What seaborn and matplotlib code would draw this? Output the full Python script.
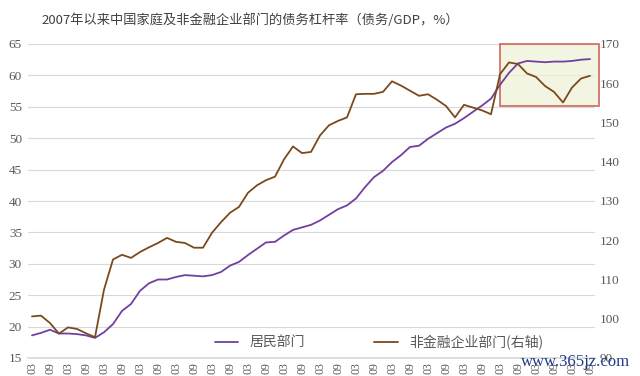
import matplotlib
matplotlib.use("Agg")
import matplotlib.pyplot as plt
import matplotlib.patches as patches
import seaborn as sns
import pandas as pd

# quarterly, 2007Q1 .. 2022Q3 (only the month part of the labels is visible)
quarters = pd.period_range("2007Q1", "2022Q3", freq="Q").strftime("%m").tolist()

household = [18.6, 19.0, 19.5, 18.9, 18.9, 18.8, 18.6, 18.2, 19.1, 20.4,
             22.5, 23.6, 25.7, 26.9, 27.5, 27.5, 27.9, 28.2, 28.1, 28.0,
             28.2, 28.7, 29.7, 30.3, 31.4, 32.4, 33.4, 33.5, 34.5, 35.4,
             35.8, 36.2, 36.9, 37.8, 38.7, 39.3, 40.4, 42.2, 43.8, 44.8,
             46.2, 47.3, 48.6, 48.8, 49.9, 50.8, 51.7, 52.3, 53.2, 54.2,
             55.2, 56.3, 58.5, 60.4, 61.9, 62.3, 62.2, 62.1, 62.2, 62.2,
             62.3, 62.5, 62.6]

corporate = [100.6, 100.8, 98.9, 96.2, 97.8, 97.4, 96.3, 95.3, 107.4, 115.1,
             116.3, 115.5, 117.0, 118.2, 119.3, 120.6, 119.6, 119.3, 118.1, 118.1,
             121.9, 124.6, 127.0, 128.5, 132.1, 134.0, 135.3, 136.2, 140.6, 143.9,
             142.2, 142.5, 146.7, 149.3, 150.4, 151.3, 157.2, 157.3, 157.3, 157.8,
             160.5, 159.4, 158.1, 156.8, 157.2, 155.8, 154.2, 151.3, 154.5, 153.8,
             153.1, 152.1, 162.3, 165.3, 164.9, 162.5, 161.6, 159.3, 157.8, 155.1,
             158.9, 161.2, 161.9]

left_ticks = [15, 20, 25, 30, 35, 40, 45, 50, 55, 60, 65]
right_ticks = [90, 100, 110, 120, 130, 140, 150, 160, 170]

purple = "#7040a0"
brown = "#7b4a1c"
grey = "#595959"

df = pd.DataFrame({"idx": range(len(quarters)), "quarter": quarters,
                   "household": household, "corporate": corporate})

sns.set_theme(style="white")
plt.rcParams['font.family'] = ['Noto Sans CJK SC', 'DejaVu Sans']

fig = plt.figure(figsize=(6.4, 3.76), dpi=100)
ax = fig.add_axes([27.5 / 640, 18 / 376, 567 / 640, 314 / 376])
ax2 = ax.twinx()

sns.lineplot(data=df, x="idx", y="household", ax=ax, color=purple, linewidth=1.3, label="居民部门")
sns.lineplot(data=df, x="idx", y="corporate", ax=ax2, color=brown, linewidth=1.3, label="非金融企业部门(右轴)")

# highlight box
box = patches.Rectangle((52.05, 55.2), 10.9, 9.8, facecolor="#eef1d8", alpha=0.7,
                        edgecolor="#c0392b", linewidth=1.3, zorder=1, clip_on=False)
ax.add_patch(box)

ax.set_xlim(-0.5, len(quarters) - 0.5)
ax.set_ylim(15, 65)
ax2.set_ylim(90, 170)
ax.set_yticks(left_ticks)
ax2.set_yticks(right_ticks)
ax.set_xticks(df["idx"][::2])
ax.set_xticklabels(df["quarter"][::2], rotation=90)
ax.grid(axis="y", color="#d9d9d9", linewidth=0.8)
ax.set_axisbelow(True)
ax.set(xlabel="", ylabel="")
ax2.set(xlabel="", ylabel="")

for a in (ax, ax2):
    for s in a.spines.values():
        s.set_visible(False)
    a.tick_params(length=0, colors=grey, labelsize=9.5, pad=4)
    for lab in a.get_xticklabels() + a.get_yticklabels():
        lab.set_family(["Liberation Serif", "DejaVu Serif"])
ax.tick_params(axis="x", labelsize=8.5, pad=3)
ax.spines["bottom"].set_visible(True)
ax.spines["bottom"].set_color("#d9d9d9")

h1, l1 = ax.get_legend_handles_labels()
h2, l2 = ax2.get_legend_handles_labels()
ax2.get_legend().remove()
ax.legend(h1 + h2, l1 + l2, ncol=2, frameon=False, loc="center",
          bbox_to_anchor=(0.62, 0.05), fontsize=10, handlelength=1.7,
          columnspacing=5, labelcolor=grey)

fig.text(250 / 640, 1 - 20 / 376, "2007年以来中国家庭及非金融企业部门的债务杠杆率（债务/GDP，%）",
         ha="center", va="center", fontsize=9.5, color="#404040")
fig.text(0.985, 0.015, "www.365jz.com", ha="right", va="bottom", fontsize=12,
         color="#1f3a8a", family=["Liberation Serif", "DejaVu Serif"])

fig.savefig("out.png", dpi=100)
